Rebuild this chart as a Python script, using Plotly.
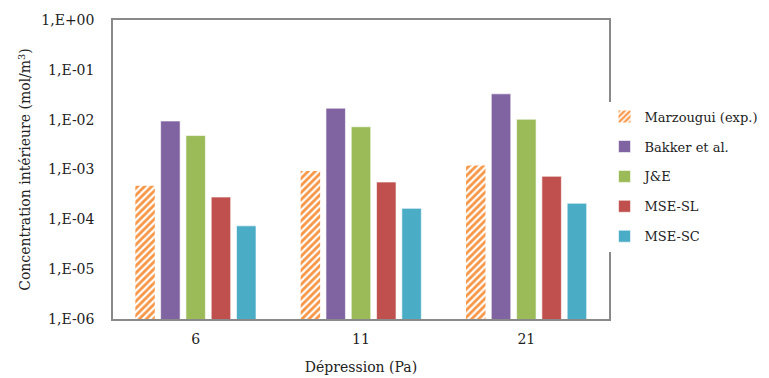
import plotly.graph_objects as go

categories = ["6", "11", "21"]
series_names = ["Marzougui (exp.)", "Bakker et al.", "J&E", "MSE-SL", "MSE-SC"]
marzougui = [4.7e-4, 9.3e-4, 1.2e-3]
bakker = [9.4e-3, 1.7e-2, 3.3e-2]
je = [4.8e-3, 7.2e-3, 1.02e-2]
mse_sl = [2.8e-4, 5.6e-4, 7.3e-4]
mse_sc = [7.4e-5, 1.66e-4, 2.1e-4]
tick_vals = [1e-6, 1e-5, 1e-4, 1e-3, 1e-2, 1e-1, 1]
tick_text = ["1,E-06", "1,E-05", "1,E-04", "1,E-03", "1,E-02", "1,E-01", "1,E+00"]

colors = ["#F79646", "#8064A2", "#9BBB59", "#C0504D", "#4BACC6"]
values = [marzougui, bakker, je, mse_sl, mse_sc]

FONT = "DejaVu Serif"
fig = go.Figure()
for i, (name, vals, col) in enumerate(zip(series_names, values, colors)):
    if i == 0:
        marker = dict(color="white",
                      pattern=dict(shape="/", fgcolor=col, bgcolor="white", size=5,
                                   solidity=0.55, fgopacity=1),
                      line=dict(width=0))
    else:
        marker = dict(color=col, line=dict(color="rgba(255,255,255,0.6)", width=1))
    fig.add_trace(go.Bar(x=categories, y=vals, name=name, marker=marker, legendgroup=name))

# page body has an 8px margin: figure is shrunk/shifted to compensate
fig.update_layout(
    width=761, height=370,
    margin=dict(l=105, r=160, t=12, b=59, autoexpand=False),
    paper_bgcolor="white", plot_bgcolor="white",
    barmode="group", bargap=0.235, bargroupgap=0.23,
    font=dict(family=FONT, size=14, color="#222"),
    legend=dict(x=0.991, y=0.727, xanchor="left", yanchor="top",
                tracegroupgap=10, font=dict(family=FONT, size=13, color="#222"),
                itemwidth=30),
    showlegend=True,
)
fig.update_xaxes(type="category", showline=True, linecolor="#898989", linewidth=1.5,
                 mirror=True, ticks="", showgrid=False, automargin=False,
                 ticklabelstandoff=6,
                 title=dict(text="Dépression (Pa)", font=dict(family=FONT, size=14), standoff=17),
                 tickfont=dict(family=FONT, size=14))
fig.update_yaxes(type="log", range=[-6, 0], showline=True, linecolor="#898989", linewidth=1.5,
                 mirror=True, showgrid=False, ticks="", automargin=False,
                 tickvals=tick_vals, ticktext=tick_text, ticklabelstandoff=14,
                 tickfont=dict(family=FONT, size=14),
                 title=dict(text="Concentration intérieure (mol/m<sup>3</sup>)",
                            font=dict(family=FONT, size=14), standoff=7))
fig.write_html("out.html")
